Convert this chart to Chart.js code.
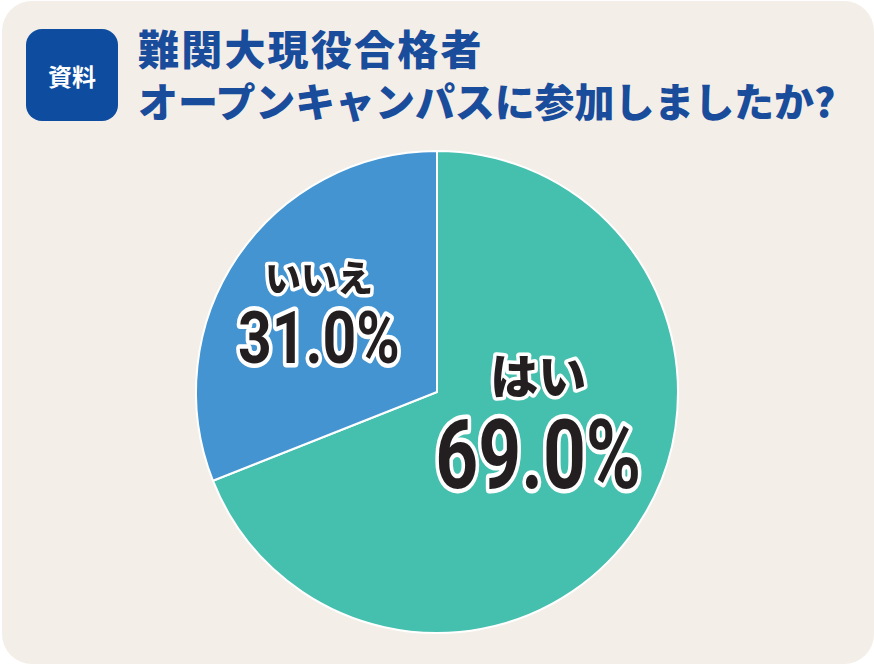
<!DOCTYPE html>
<html lang="ja">
<head>
<meta charset="utf-8">
<title>難関大現役合格者 オープンキャンパスに参加しましたか?</title>
<script src="https://cdn.jsdelivr.net/npm/chart.js@4.4.1/dist/chart.umd.min.js"></script>
<style>
  html, body { margin: 0; padding: 0; background: #ffffff; }
  .card {
    position: absolute; left: 2px; top: 1px; width: 872px; height: 663px;
    background: #f3efe8; border-radius: 30px; overflow: hidden;
  }
  .badge {
    position: absolute; left: 26px; top: 29px; width: 92px; height: 92px;
    background: #0d4c9f; border-radius: 16px; color: #fff;
    font: bold 24px "Noto Sans CJK JP", sans-serif;
    display: flex; align-items: center; justify-content: center;
  }
  .title {
    position: absolute; left: 138px; top: 21px; color: #1a4c9c;
    font-family: "Noto Sans CJK JP", sans-serif; font-weight: 900;
  }
  .title .l1 { font-size: 41px; letter-spacing: 2.2px; line-height: 53px; }
  .title .l2 { font-size: 40px; letter-spacing: -0.1px; line-height: 52px; }
  .wrap { position: absolute; left: 0; top: 0; width: 874px; height: 665px; }
</style>
</head>
<body>
<div class="card"></div>
<div class="badge">資料</div>
<div class="title">
  <div class="l1">難関大現役合格者</div>
  <div class="l2">オープンキャンパスに参加しましたか?</div>
</div>
<div class="wrap"><canvas id="chart"></canvas></div>
<script>
const categories = ['はい', 'いいえ'];
const shares = [69.0, 31.0];
const sliceColors = ['#45bfae', '#4394d0'];

// label placement inside each slice, in units of the radius (style only)
const labelAnchors = [
  { dx: 0.42, dy: 0.20, nameSize: 48, valueSize: 96, valueWidth: 206 },
  { dx: -0.49, dy: -0.27, nameSize: 36, valueSize: 73, valueWidth: 162 }
];

const sliceLabels = {
  id: 'sliceLabels',
  afterDatasetsDraw(chart) {
    const ctx = chart.ctx;
    const meta = chart.getDatasetMeta(0);
    meta.data.forEach((arc, i) => {
      const a = labelAnchors[i];
      const r = arc.outerRadius;
      const cx = arc.x + a.dx * r;
      const cy = arc.y + a.dy * r;
      const value = shares[i].toFixed(1) + '%';

      ctx.save();
      ctx.textAlign = 'center';
      ctx.textBaseline = 'alphabetic';
      ctx.lineJoin = 'round';
      ctx.strokeStyle = '#ffffff';
      ctx.fillStyle = '#231f20';

      // category name
      ctx.font = `900 ${a.nameSize}px "Noto Sans CJK JP", sans-serif`;
      ctx.lineWidth = 7;
      const nameY = cy - a.valueSize * 0.48;
      ctx.strokeText(categories[i], cx, nameY);
      ctx.fillText(categories[i], cx, nameY);

      // percentage, horizontally condensed
      ctx.font = `bold ${a.valueSize}px Roboto, sans-serif`;
      const w = ctx.measureText(value).width;
      const sx = a.valueWidth / w;
      const valY = cy + a.valueSize * 0.50;
      ctx.translate(cx, valY);
      ctx.scale(sx, 1);
      ctx.lineWidth = 9;
      ctx.strokeText(value, 0, 0);
      ctx.fillText(value, 0, 0);
      ctx.restore();
    });
  }
};

new Chart(document.getElementById('chart'), {
  type: 'pie',
  data: {
    labels: categories,
    datasets: [{
      data: shares,
      backgroundColor: sliceColors,
      borderColor: '#ffffff',
      borderWidth: 2
    }]
  },
  options: {
    responsive: true,
    maintainAspectRatio: false,
    animation: false,
    layout: { padding: { top: 150, bottom: 31, left: 0, right: 0 } },
    plugins: {
      legend: { display: false },
      tooltip: { enabled: false },
      title: { display: false }
    }
  },
  plugins: [sliceLabels]
});
</script>
</body>
</html>
